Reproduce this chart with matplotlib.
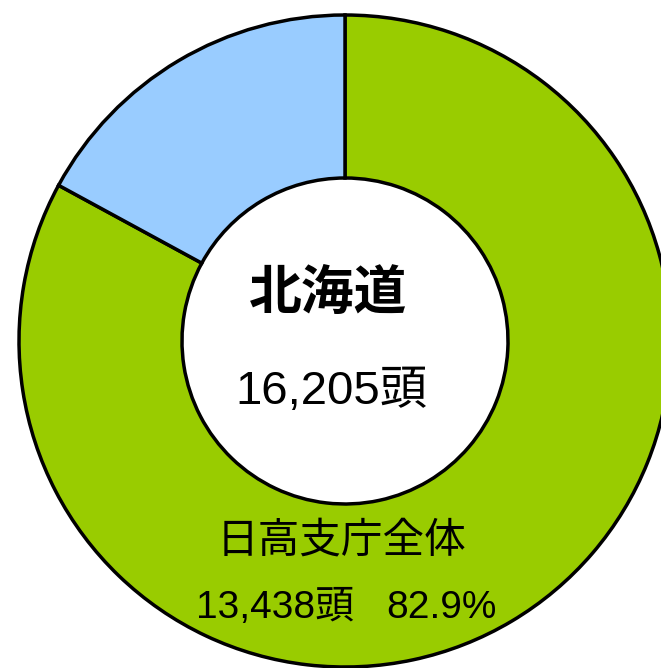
import matplotlib
matplotlib.use("Agg")
import matplotlib.pyplot as plt

# Data
labels = ["日高支庁全体", "その他"]
values = [13438, 2767]
total_label = "北海道"
total_value = 16205
colors = ["#99CC00", "#99CCFF"]

W, H = 661, 668
fig = plt.figure(figsize=(W / 100, H / 100), dpi=100)
ax = fig.add_axes([0, 0, 1, 1])

cx, cy, R = 345, H - 341, 326
ax.pie(values, radius=R, center=(cx, cy), startangle=90, counterclock=False,
       colors=colors,
       wedgeprops=dict(width=R / 2, edgecolor="black", linewidth=2.5))
ax.set_xlim(0, W)
ax.set_ylim(0, H)
ax.axis("off")

fam = ["Liberation Sans", "Noto Sans CJK JP"]
ax.text(328, H - 295, total_label, ha="center", va="center", fontsize=38,
        fontweight="bold", family=fam)
ax.text(331, H - 392, f"{total_value:,}頭", ha="center", va="center",
        fontsize=34, family=fam)
ax.text(342, H - 542, labels[0], ha="center", va="center", fontsize=30, family=fam)
pct = values[0] / total_value * 100
ax.text(354, H - 608, f"{values[0]:,}頭", ha="right", va="center",
        fontsize=28, family=fam)
ax.text(386, H - 608, f"{pct:.1f}%", ha="left", va="center",
        fontsize=28, family=fam)

fig.savefig("out.png", dpi=100)
